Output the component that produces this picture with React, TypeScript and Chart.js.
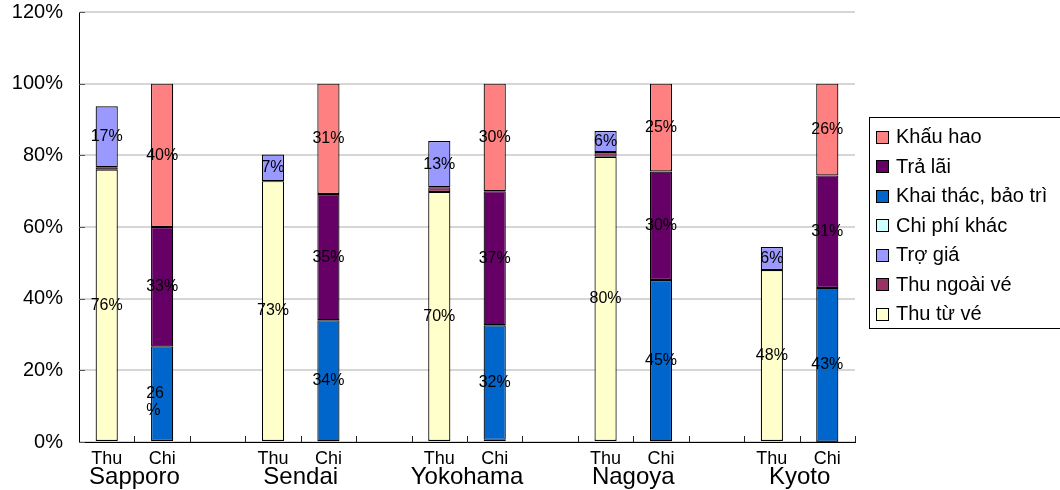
import { useEffect, useRef } from 'react';
import { Chart, registerables } from 'chart.js';

Chart.register(...registerables);

const FONT = '"Liberation Sans", Arial, sans-serif';

// ---- data ----
const cities = ['Sapporo', 'Sendai', 'Yokohama', 'Nagoya', 'Kyoto'];
const pairLabels = ['Thu', 'Chi'];
const yTickValues = [0, 20, 40, 60, 80, 100, 120];

// Thu (revenue) side, % of cost
const thuTuVe = [76.0, 72.8, 69.8, 79.6, 48.0];
const thuNgoaiVe = [0.7, 0.0, 1.3, 1.3, 0.0];
const troGia = [17.0, 7.4, 12.9, 5.9, 6.4];
// Chi (cost) side, % of cost
const chiPhiKhac = [0.3, 0.2, 0.6, 0.2, 0.1];
const khaiThacBaoTri = [26.4, 33.8, 32.0, 45.0, 42.9];
const traLai = [33.3, 35.2, 37.4, 30.3, 31.4];
const khauHao = [40.0, 30.8, 30.0, 24.5, 25.6];

// data labels that wrap onto two lines in the original (series name, city)
const wrappedLabels = [['Khai thác, bảo trì', 'Sapporo']];

type Series = { name: string; color: string; side: 0 | 1; values: number[]; label: boolean };

const series: Series[] = [
  { name: 'Thu từ vé', color: '#FFFFCC', side: 0, values: thuTuVe, label: true },
  { name: 'Thu ngoài vé', color: '#993366', side: 0, values: thuNgoaiVe, label: false },
  { name: 'Trợ giá', color: '#9999FF', side: 0, values: troGia, label: true },
  { name: 'Chi phí khác', color: '#CCFFFF', side: 1, values: chiPhiKhac, label: false },
  { name: 'Khai thác, bảo trì', color: '#0066CC', side: 1, values: khaiThacBaoTri, label: true },
  { name: 'Trả lãi', color: '#660066', side: 1, values: traLai, label: true },
  { name: 'Khấu hao', color: '#FF8080', side: 1, values: khauHao, label: true },
];

// 14 category slots: Thu, Chi, gap, Thu, Chi, gap, ...
const categories: string[] = [];
cities.forEach((_, i) => {
  categories.push(pairLabels[0], pairLabels[1]);
  if (i < cities.length - 1) categories.push('');
});

function buildData(s: Series): (number | null)[] {
  const arr: (number | null)[] = categories.map(() => null);
  s.values.forEach((v, i) => {
    arr[i * 3 + s.side] = v;
  });
  return arr;
}

const insideTicksPlugin = {
  id: 'insideTicks',
  afterDraw(chart: any) {
    const { ctx, chartArea, scales } = chart;
    const y = scales.y;
    const x = scales.x;
    ctx.save();
    ctx.strokeStyle = '#555';
    ctx.lineWidth = 1;
    y.ticks.forEach((t: any) => {
      const py = Math.round(y.getPixelForValue(t.value)) + 0.5;
      ctx.beginPath();
      ctx.moveTo(chartArea.left, py);
      ctx.lineTo(chartArea.left + 6, py);
      ctx.stroke();
    });
    ctx.strokeStyle = '#222';
    for (let i = 1; i <= categories.length; i++) {
      const px =
        i < categories.length
          ? (x.getPixelForValue(i - 1) + x.getPixelForValue(i)) / 2
          : chartArea.right;
      const rx = Math.round(px) + 0.5;
      ctx.beginPath();
      ctx.moveTo(rx, chartArea.bottom);
      ctx.lineTo(rx, chartArea.bottom - 6);
      ctx.stroke();
    }
    ctx.restore();
  },
};

const valueLabelsPlugin = {
  id: 'valueLabels',
  afterDatasetsDraw(chart: any) {
    const { ctx } = chart;
    ctx.save();
    ctx.font = `16px ${FONT}`;
    ctx.fillStyle = '#000';
    ctx.textBaseline = 'middle';
    chart.data.datasets.forEach((ds: any, di: number) => {
      if (!series[di].label) return;
      const meta = chart.getDatasetMeta(di);
      meta.data.forEach((el: any, j: number) => {
        const v = ds.data[j];
        if (v == null || v < 3) return;
        const cy = (el.y + el.base) / 2;
        const text = Math.round(v) + '%';
        const city = cities[Math.floor(j / 3)];
        const wrap = wrappedLabels.some((w) => w[0] === ds.label && w[1] === city);
        if (wrap) {
          ctx.textAlign = 'left';
          const lx = el.x - 16;
          ctx.fillText(text.slice(0, -1), lx, cy);
          ctx.fillText('%', lx, cy + 17);
        } else {
          ctx.textAlign = 'center';
          ctx.fillText(text, el.x, cy);
        }
      });
    });
    ctx.restore();
  },
};

const cityLabelsPlugin = {
  id: 'cityLabels',
  afterDraw(chart: any) {
    const { ctx, scales } = chart;
    const x = scales.x;
    ctx.save();
    ctx.font = `24px ${FONT}`;
    ctx.fillStyle = '#000';
    ctx.textAlign = 'center';
    ctx.textBaseline = 'alphabetic';
    cities.forEach((c, i) => {
      const cx = (x.getPixelForValue(i * 3) + x.getPixelForValue(i * 3 + 1)) / 2;
      ctx.fillText(c, cx, 484);
    });
    ctx.restore();
  },
};

const boxLegendPlugin = {
  id: 'boxLegend',
  afterDraw(chart: any) {
    const { ctx, chartArea } = chart;
    const left = chartArea.right + 14;
    const top = 117;
    const h = 211;
    ctx.save();
    ctx.fillStyle = '#fff';
    ctx.fillRect(left + 0.5, top + 0.5, 300, h);
    ctx.strokeStyle = '#000';
    ctx.lineWidth = 1;
    ctx.strokeRect(left + 0.5, top + 0.5, 300, h);
    ctx.font = `20px ${FONT}`;
    ctx.textAlign = 'left';
    ctx.textBaseline = 'middle';
    const items = [...chart.data.datasets].reverse();
    items.forEach((ds: any, k: number) => {
      const cy = top + 19.5 + k * 29.5;
      ctx.fillStyle = ds.backgroundColor;
      ctx.fillRect(left + 7.5, Math.round(cy - 6) + 0.5, 12, 12);
      ctx.strokeStyle = '#000';
      ctx.strokeRect(left + 7.5, Math.round(cy - 6) + 0.5, 12, 12);
      ctx.fillStyle = '#000';
      ctx.fillText(ds.label, left + 27, cy + 1);
    });
    ctx.restore();
  },
};

export default function App() {
  const canvasRef = useRef<HTMLCanvasElement | null>(null);

  useEffect(() => {
    const canvas = canvasRef.current;
    if (!canvas) return;
    Chart.defaults.font.family = FONT;
    const chart = new Chart(canvas, {
      type: 'bar',
      data: {
        labels: categories,
        datasets: series.map((s) => ({
          label: s.name,
          data: buildData(s),
          backgroundColor: s.color,
          borderColor: '#000',
          borderWidth: 1.2,
          borderSkipped: false,
          barPercentage: 0.4,
          categoryPercentage: 1.0,
        })),
      },
      options: {
        responsive: false,
        animation: false,
        devicePixelRatio: 1,
        layout: { padding: { top: 12, right: 205, bottom: 0, left: 0 } },
        plugins: {
          legend: { display: false },
          tooltip: { enabled: false },
          title: { display: false },
        },
        scales: {
          x: {
            stacked: true,
            offset: true,
            grid: { display: false, drawTicks: false },
            border: { display: true, color: '#000', width: 1 },
            ticks: {
              color: '#000',
              font: { size: 18, family: FONT },
              padding: 6,
              maxRotation: 0,
              autoSkip: false,
            },
            afterFit: (scale: any) => {
              scale.height = 48;
              scale.paddingLeft = 0;
              scale.paddingRight = 0;
            },
          },
          y: {
            stacked: true,
            min: 0,
            max: 120,
            afterBuildTicks: (scale: any) => {
              scale.ticks = yTickValues.map((v) => ({ value: v }));
            },
            grid: { color: '#d6d6d6', lineWidth: 2, drawTicks: false },
            border: { display: true, color: '#000', width: 1 },
            ticks: {
              color: '#000',
              font: { size: 20, family: FONT },
              padding: 16,
              callback: (v: any) => v + '%',
            },
            afterFit: (scale: any) => {
              scale.width = 79;
              scale.paddingTop = 0;
              scale.paddingBottom = 0;
            },
          },
        },
      },
      plugins: [insideTicksPlugin, valueLabelsPlugin, cityLabelsPlugin, boxLegendPlugin],
    });
    return () => chart.destroy();
  }, []);

  return (
    <div style={{ position: 'fixed', left: 0, top: 0, width: 1060, height: 490, background: '#fff' }}>
      <canvas ref={canvasRef} width={1060} height={490} />
    </div>
  );
}
